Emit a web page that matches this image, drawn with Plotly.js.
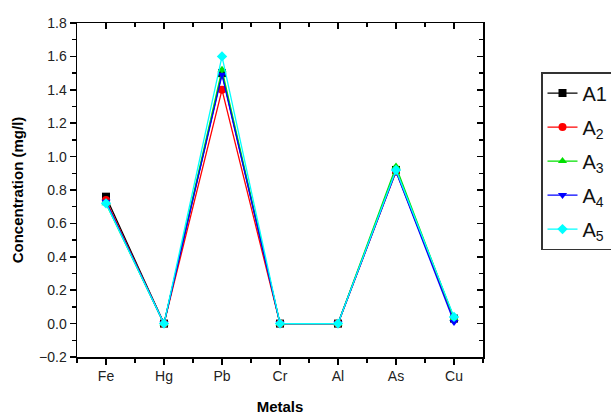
<!DOCTYPE html>
<html>
<head>
<meta charset="utf-8">
<script src="https://cdn.plot.ly/plotly-3.0.1.min.js"></script>
<style>html,body{margin:0;padding:0;background:#fff;overflow:hidden;width:611px;height:417px;}#chart{width:650px;height:417px;}</style>
</head>
<body>
<div id="chart"></div>
<script>
const metals = ["Fe", "Hg", "Pb", "Cr", "Al", "As", "Cu"];
const seriesNames = ["A1", "A<sub>2</sub>", "A<sub>3</sub>", "A<sub>4</sub>", "A<sub>5</sub>"];
const A1 = [0.76, 0.00, 1.50, 0.00, 0.00, 0.92, 0.03];
const A2 = [0.74, 0.00, 1.40, 0.00, 0.00, 0.91, 0.03];
const A3 = [0.72, 0.00, 1.52, 0.00, 0.00, 0.94, 0.03];
const A4 = [0.73, 0.00, 1.49, 0.00, 0.00, 0.91, 0.01];
const A5 = [0.72, 0.00, 1.60, 0.00, 0.00, 0.92, 0.04];
const yTicks = [-0.2, 0.0, 0.2, 0.4, 0.6, 0.8, 1.0, 1.2, 1.4, 1.6, 1.8];

const seriesValues = [A1, A2, A3, A4, A5];
const colors = ["#000000", "#ff0000", "#00e000", "#0000ff", "#00ffff"];
const symbols = ["square", "circle", "triangle-up", "triangle-down", "diamond"];
const xPos = metals.map((m, i) => i + 1);

const traces = seriesValues.map((vals, i) => ({
  x: xPos, y: vals, name: seriesNames[i], type: "scatter", mode: "lines+markers",
  legendgroup: "g" + i,
  line: {color: colors[i], width: 1.3},
  marker: {color: colors[i], symbol: symbols[i], size: 8},
  xaxis: "x", yaxis: "y"
}));
traces.push({x: [], y: [], xaxis: "x2", yaxis: "y2", showlegend: false, hoverinfo: "skip"});

const W = 650;
const axisFont = {family: "Liberation Sans, Arial, sans-serif", size: 14, color: "#222"};
const layout = {
  width: W, height: 417,
  margin: {l: 77, r: W - 483, t: 23, b: 60},
  paper_bgcolor: "#fff", plot_bgcolor: "#fff",
  showlegend: true,
  legend: {
    x: (541 - 77) / 406, y: 0.853, xanchor: "left", yanchor: "top",
    bordercolor: "#333", borderwidth: 1.5, bgcolor: "#fff",
    font: {family: "Liberation Sans, Arial, sans-serif", size: 20, color: "#111"},
    itemwidth: 30, tracegroupgap: 5
  },
  xaxis: {
    range: [0.5, 7.5], tickvals: xPos, ticktext: metals,
    showgrid: false, zeroline: false, showline: true, linecolor: "#000", linewidth: 1.5,
    ticks: "outside", ticklen: 6, tickwidth: 1.5, tickcolor: "#000",
    minor: {dtick: 0.5, tick0: 0.5, ticks: "outside", ticklen: 4, tickwidth: 1.5, tickcolor: "#000"},
    tickfont: axisFont,
    title: {text: "<b>Metals</b>", font: {family: "Liberation Sans, Arial, sans-serif", size: 15, color: "#000"}, standoff: 18}
  },
  yaxis: {
    range: [-0.2, 1.8], tickvals: yTicks, tickformat: ".1f",
    showgrid: false, zeroline: false, showline: true, linecolor: "#000", linewidth: 1.5,
    ticks: "outside", ticklen: 6, tickwidth: 1.5, tickcolor: "#000",
    minor: {dtick: 0.1, tick0: 0, ticks: "outside", ticklen: 4, tickwidth: 1.5, tickcolor: "#000"},
    tickfont: axisFont,
    title: {text: "<b>Concentration (mg/l)</b>", font: {family: "Liberation Sans, Arial, sans-serif", size: 15, color: "#000"}, standoff: 12}
  },
  xaxis2: {
    overlaying: "x", side: "top", anchor: "y2", range: [0.5, 7.5], tickvals: xPos, showticklabels: false,
    showgrid: false, zeroline: false, showline: true, linecolor: "#000", linewidth: 1.5,
    ticks: "inside", ticklen: 6, tickwidth: 1.5, tickcolor: "#000",
    minor: {dtick: 0.5, tick0: 0.5, ticks: "inside", ticklen: 4, tickwidth: 1.5, tickcolor: "#000"}
  },
  yaxis2: {
    overlaying: "y", side: "right", anchor: "x2", range: [-0.2, 1.8], tickvals: yTicks, showticklabels: false,
    showgrid: false, zeroline: false, showline: true, linecolor: "#000", linewidth: 1.5,
    ticks: "inside", ticklen: 6, tickwidth: 1.5, tickcolor: "#000",
    minor: {dtick: 0.1, tick0: 0, ticks: "inside", ticklen: 4, tickwidth: 1.5, tickcolor: "#000"}
  }
};

Plotly.newPlot("chart", traces, layout, {displayModeBar: false, staticPlot: true});
</script>
</body>
</html>
